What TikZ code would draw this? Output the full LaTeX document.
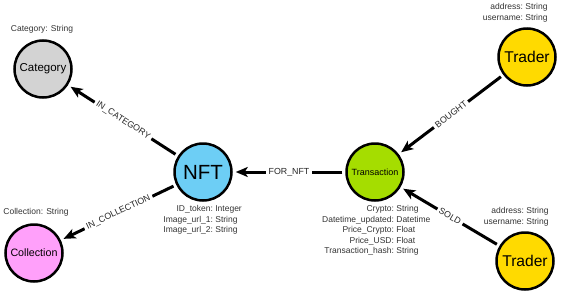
\documentclass[tikz,border=0pt]{standalone}
\usepackage{fontspec}
\setmainfont{Liberation Sans}
\usepackage{tikz}
\usetikzlibrary{arrows.meta}

\definecolor{catgray}{HTML}{D3D3D3}
\definecolor{nftblue}{HTML}{6DCEF5}
\definecolor{colpink}{HTML}{FFA0FA}
\definecolor{txgreen}{HTML}{A5DD00}
\definecolor{tradergold}{HTML}{FFDA00}
\definecolor{proptext}{HTML}{333333}

% property list, aligned on the colon
\newcommand\props[2]{\llap{\begin{tabular}[t]{@{}r@{}}#1\end{tabular}}\rlap{\begin{tabular}[t]{@{\ }l@{}}#2\end{tabular}}}

\begin{document}
\begin{tikzpicture}[x=1pt,y=-1pt,
  ent/.style={circle,draw=black,line width=2.5pt,fill=#1,minimum size=57pt,inner sep=0pt,text=black},
  prop/.style={anchor=base,inner sep=0pt,text=proptext,font=\fontsize{8.5}{10.5}\selectfont},
  arr/.style={-{Stealth[length=12pt,width=10pt,inset=3pt]},line width=3pt,shorten <=3pt,shorten >=3pt},
  rel/.style={midway,sloped,fill=white,inner sep=2.5pt,text=black!85,font=\fontsize{8.8}{10}\selectfont}]
\useasboundingbox (0,0) rectangle (562,292);
\node[ent=catgray,font=\fontsize{11.5}{13}\selectfont]    (cat)  at (43,69)   {Category};
\node[ent=nftblue,font=\fontsize{20.5}{22}\selectfont]    (nft)  at (203,172) {NFT};
\node[ent=colpink,font=\fontsize{10.7}{12}\selectfont]    (col)  at (34,253)  {Collection};
\node[ent=txgreen,font=\fontsize{9}{10}\selectfont]       (tx)   at (375,172) {Transaction};
\node[ent=tradergold,font=\fontsize{15.6}{17}\selectfont] (buyer)  at (527,57)  {Trader};
\node[ent=tradergold,font=\fontsize{15.6}{17}\selectfont] (seller) at (525,261) {Trader};
% properties
\node[prop] (catp)    at (42,31.5)  {Category: String};
\node[prop] (colp)    at (36,214.5) {Collection: String};
\node[prop] (nftp)    at (213,211.5) {\props{ID\_token:\\Image\_url\_1:\\Image\_url\_2:}{Integer\\String\\String}};
\node[prop] (txp)     at (394,211.5) {\props{Crypto:\\Datetime\_updated:\\Price\_Crypto:\\Price\_USD:\\Transaction\_hash:}{String\\Datetime\\Float\\Float\\String}};
\node[prop] (buyerp)  at (523,9.5)   {\props{address:\\username:}{String\\String}};
\node[prop] (sellerp) at (524,213.5) {\props{address:\\username:}{String\\String}};
% relationships
\draw[arr] (nft) -- node[rel] {IN\_CATEGORY} (cat);
\draw[arr] (nft) -- node[rel] {IN\_COLLECTION} (col);
\draw[arr] (tx) -- node[rel] {FOR\_NFT} (nft);
\draw[arr] (buyer) -- node[rel] {BOUGHT} (tx);
\draw[arr] (seller) -- node[rel] {SOLD} (tx);
\end{tikzpicture}
\end{document}
